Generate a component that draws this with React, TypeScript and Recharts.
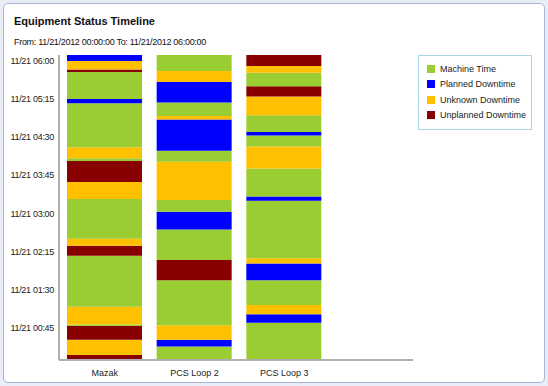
import { BarChart, Bar, XAxis, YAxis, Cell } from 'recharts'

// status codes: M = machine time, P = planned, K = unknown, U = unplanned
const categories = ['Mazak', 'PCS Loop 2', 'PCS Loop 3']

// segments listed bottom (00:00) to top (06:00), durations in minutes
const mazakStatus = ['U', 'K', 'U', 'M', 'K', 'M', 'U', 'K', 'M', 'K', 'U', 'M', 'K', 'M', 'P', 'M', 'U', 'K', 'P']
const mazakMinutes = [6, 18, 16, 2, 21, 60, 12, 8, 47, 20, 25, 3, 13, 52, 5, 32, 3, 10, 7]

const loop2Status = ['M', 'P', 'K', 'M', 'U', 'M', 'P', 'M', 'K', 'M', 'P', 'K', 'M', 'P', 'K', 'M']
const loop2Minutes = [16, 8, 17, 53, 24, 36, 21, 14, 45, 13, 37, 4, 16, 24, 13, 19]

const loop3Status = ['M', 'P', 'K', 'M', 'P', 'K', 'M', 'P', 'M', 'K', 'M', 'P', 'M', 'K', 'U', 'M', 'K', 'U']
const loop3Minutes = [44, 10, 11, 29, 20, 6, 68, 5, 33, 26, 13, 4, 20, 22, 12, 16, 8, 13]

const tickValues = [45, 90, 135, 180, 225, 270, 315, 360]
const tickLabels = ['11/21 00:45', '11/21 01:30', '11/21 02:15', '11/21 03:00', '11/21 03:45', '11/21 04:30', '11/21 05:15', '11/21 06:00']

const legendNames = ['Machine Time', 'Planned Downtime', 'Unknown Downtime', 'Unplanned Downtime']
const legendCodes = ['M', 'P', 'K', 'U']

const colors: Record<string, string> = {
  M: '#9acd32',
  P: '#0000ff',
  K: '#ffc000',
  U: '#880000',
}

const statuses = [mazakStatus, loop2Status, loop3Status]
const minutes = [mazakMinutes, loop2Minutes, loop3Minutes]
const segCount = Math.max(...minutes.map((m) => m.length))

const data = categories.map((name, ci) => {
  const row: any = { name }
  minutes[ci].forEach((v, i) => { row[`s${i}`] = v })
  return row
})

const font = '"Liberation Sans", Arial, sans-serif'

const YTick = ({ x, y, payload }: any) => {
  const idx = tickValues.indexOf(payload.value)
  return (
    <text x={x + 3} y={y + 6} dy={3} textAnchor="end" fontSize={9} letterSpacing={-0.3} fill="#222" fontFamily={font}>
      {tickLabels[idx]}
    </text>
  )
}

const LegendBox = () => (
  <div style={{
    position: 'absolute', left: 418, top: 55, width: 114, height: 75,
    border: '1px solid #a9d4ea', background: '#fff',
    fontFamily: font, fontSize: 9, color: '#222', paddingTop: 5, boxSizing: 'border-box',
  }}>
    {legendNames.map((n, i) => (
      <div key={n} style={{ display: 'flex', alignItems: 'center', height: 15.5, paddingLeft: 8 }}>
        <span style={{ width: 8, height: 8, background: colors[legendCodes[i]], marginRight: 5, display: 'inline-block' }} />
        {n}
      </div>
    ))}
  </div>
)

export default function App() {
  return (
    <div style={{ position: 'absolute', left: 0, top: 0, width: 548, height: 386, background: '#e9edf7' }}>
      <div style={{
        position: 'absolute', left: 3, top: 3, width: 540, height: 378,
        border: '1px solid #a4b5d6', borderRadius: 5, background: '#fff',
      }} />
      <div style={{ position: 'absolute', left: 14, top: 15, fontFamily: font, fontSize: 11, fontWeight: 'bold', color: '#111' }}>
        Equipment Status Timeline
      </div>
      <div style={{ position: 'absolute', left: 14, top: 37, fontFamily: font, fontSize: 9, letterSpacing: -0.3, color: '#111' }}>
        From: 11/21/2012 00:00:00 To: 11/21/2012 06:00:00
      </div>
      <div style={{ position: 'absolute', left: 0, top: 0 }}>
        <BarChart width={548} height={386} data={data} margin={{ top: 55, right: 135, bottom: 0, left: 0 }} barSize={75}>
          <XAxis
            dataKey="name" padding={{ left: 1, right: 84 }} height={26}
            axisLine={{ stroke: '#b0b0b0', strokeWidth: 2 }} tickLine={false}
            tick={{ fontSize: 9, fill: '#222', fontFamily: font }} tickMargin={4}
          />
          <YAxis
            type="number" domain={[0, 360]} ticks={tickValues} width={59}
            axisLine={{ stroke: '#b0b0b0', strokeWidth: 2 }} tickLine={false} tick={<YTick />}
          />
          {Array.from({ length: segCount }, (_, i) => (
            <Bar key={i} dataKey={`s${i}`} stackId="a" isAnimationActive={false} legendType="none">
              {categories.map((c, ci) => (
                <Cell key={c} fill={colors[statuses[ci][i]] ?? 'none'} />
              ))}
            </Bar>
          ))}
        </BarChart>
      </div>
      <LegendBox />
    </div>
  )
}
